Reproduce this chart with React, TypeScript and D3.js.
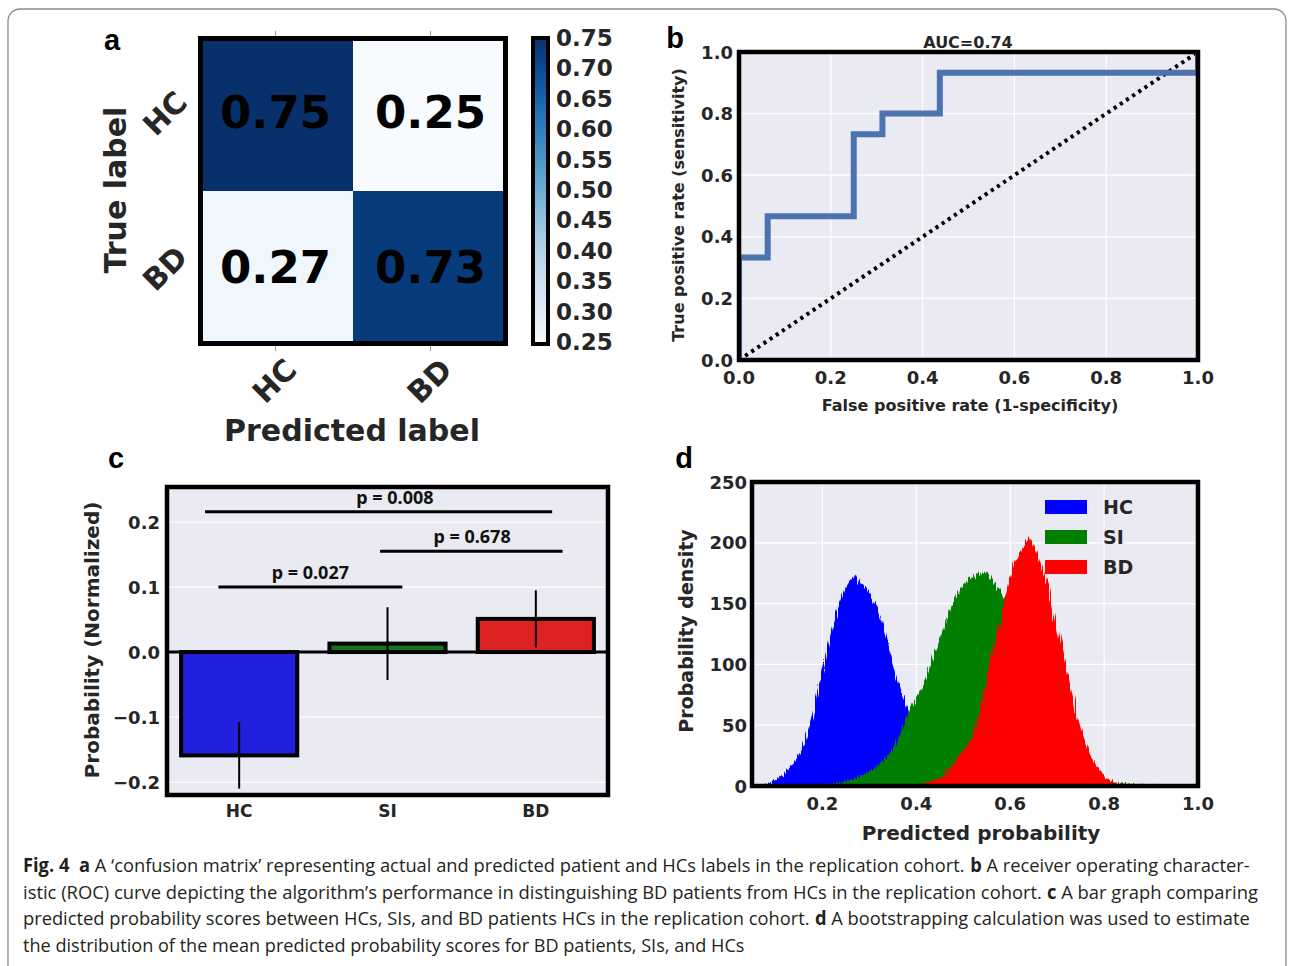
import React from 'react';
import * as d3 from 'd3';

const FONT = "'DejaVu Sans', sans-serif";
const TXT = '#262626';
const BG = '#EAEAF2';

// ---------- Panel a : confusion matrix ----------
const cmClasses = ['HC', 'BD'];
const cmValues = [
  [0.75, 0.25],
  [0.27, 0.73],
];
const cbTicks = [0.25, 0.3, 0.35, 0.4, 0.45, 0.5, 0.55, 0.6, 0.65, 0.7, 0.75];

// ---------- Panel b : ROC ----------
const rocFpr = [0, 0, 0.0625, 0.0625, 0.25, 0.25, 0.3125, 0.3125, 0.4375, 0.4375, 1, 1];
const rocTpr = [0, 0.333, 0.333, 0.467, 0.467, 0.733, 0.733, 0.8, 0.8, 0.933, 0.933, 1];
const chance = [0, 1];
const rocTicks = [0, 0.2, 0.4, 0.6, 0.8, 1.0];
const aucTitle = 'AUC=0.74';

// ---------- Panel c : bars ----------
const barCats = ['HC', 'SI', 'BD'];
const barMeans = [-0.159, 0.013, 0.051];
const barErrs = [0.051, 0.056, 0.044];
const barColors = ['#2121DD', '#187218', '#DD2222'];
const barTicks = [-0.2, -0.1, 0.0, 0.1, 0.2];
const sigLabels = ['p = 0.008', 'p = 0.678', 'p = 0.027'];
const sigY = [0.216, 0.155, 0.1];
const sigX0 = [-0.23, 0.95, -0.14];
const sigX1 = [2.11, 2.18, 1.1];
const sigTextX = [1.05, 1.57, 0.48];

// ---------- Panel d : bootstrap histograms ----------
const histStep = 0.01;
const hcStart = 0.05;
const hcDensity = [0, 0.5, 1, 1.5, 2.5, 5, 7, 11, 15, 20, 26, 34, 46, 58, 75, 94, 112, 128, 142, 154, 163, 169, 174, 166, 165, 158, 152, 143, 131, 117, 103, 89, 76, 65, 54, 44, 35, 27, 20, 14, 10, 7, 5, 3, 2, 1, 0.5, 0.3, 0];
const siStart = 0.18;
const siDensity = [0, 0.3, 0.5, 1, 1.5, 2, 3, 4, 5, 6, 8, 10, 12, 14, 17, 21, 25, 31, 38, 46, 58, 66, 72, 79, 88, 100, 110, 118, 130, 145, 152, 160, 166, 172, 170, 176, 174, 177, 170, 165, 158, 150, 140, 130, 120, 110, 100, 90, 80, 70, 60, 51, 43, 36, 30, 24, 19, 15, 12, 9, 7, 6, 6, 5, 3.5, 2.5, 2, 1.5, 1, 0.8, 0.5, 0.3, 0.2, 0];
const bdStart = 0.38;
const bdDensity = [0, 0.5, 1, 1.5, 2, 3, 5, 7, 10, 14, 19, 24, 29, 34, 41, 55, 70, 88, 106, 124, 142, 158, 172, 184, 192, 198, 205, 196, 189, 176, 164, 148, 132, 114, 96, 80, 62, 48, 36, 26, 19, 13, 8, 5, 3, 2, 1, 0.5, 0];
const histNames = ['HC', 'SI', 'BD'];
const histColors = ['#0000FF', '#007F00', '#FF0000'];
const histXTicks = [0.2, 0.4, 0.6, 0.8, 1.0];
const histYTicks = [0, 50, 100, 150, 200, 250];

// ---------- Caption ----------
const captionLines: { parts: [string, boolean][]; width: number }[] = [
  {
    parts: [
      ['Fig. 4', true], ['  ', false], ['a', true], [' ', false],
      ['A \u2018confusion matrix\u2019 representing actual and predicted patient and HCs labels in the replication cohort.', false], [' ', false],
      ['b', true], [' ', false], ['A receiver operating character-', false],
    ],
    width: 1227,
  },
  {
    parts: [
      ['istic (ROC) curve depicting the algorithm\u2019s performance in distinguishing BD patients from HCs in the replication cohort.', false], [' ', false],
      ['c', true], [' ', false], ['A bar graph comparing', false],
    ],
    width: 1235,
  },
  {
    parts: [
      ['predicted probability scores between HCs, SIs, and BD patients HCs in the replication cohort.', false], [' ', false],
      ['d', true], [' ', false], ['A bootstrapping calculation was used to estimate', false],
    ],
    width: 1227,
  },
  {
    parts: [['the distribution of the mean predicted probability scores for BD patients, SIs, and HCs', false]],
    width: 722,
  },
];

const CAP_FONT = "'Open Sans', 'Noto Sans', sans-serif";
const CAP_SIZE = 19;

let measureCtx: CanvasRenderingContext2D | null = null;
function measure(t: string, bold: boolean) {
  if (!measureCtx) measureCtx = document.createElement('canvas').getContext('2d');
  if (!measureCtx) return t.length * CAP_SIZE * 0.5;
  measureCtx.font = `${bold ? 'bold' : 'normal'} ${CAP_SIZE}px ${CAP_FONT}`;
  return measureCtx.measureText(t).width;
}

const panelLetter = (t: string, x: number, y: number) => (
  <text x={x} y={y} fontFamily="'Liberation Sans', Arial, sans-serif" fontWeight="bold" fontSize={29} fill="#000" textAnchor="middle" dominantBaseline="central">{t}</text>
);

function PanelA() {
  const L = 198, R = 508, T = 36, B = 346;
  const x = d3.scaleBand().domain(cmClasses).range([L, R]);
  const y = d3.scaleBand().domain(cmClasses).range([T, B]);
  const color = d3.scaleSequential(d3.interpolateBlues).domain([0.25, 0.75]);
  const cbX = 531, cbW = 19;
  const cbY = d3.scaleLinear().domain([0.25, 0.75]).range([342, 38]);
  return (
    <g>
      {panelLetter('a', 112, 40)}
      <defs>
        <linearGradient id="cbgrad" x1="0" y1="1" x2="0" y2="0">
          {cbTicks.map((t) => (
            <stop key={t} offset={(t - 0.25) / 0.5} stopColor={color(t)} />
          ))}
        </linearGradient>
      </defs>
      {cmValues.map((row, i) =>
        row.map((v, j) => (
          <rect key={`${i}-${j}`} x={x(cmClasses[j])} y={y(cmClasses[i])} width={x.bandwidth()} height={y.bandwidth()} fill={color(v)} />
        ))
      )}
      {cmClasses.map((c) => (
        <g key={c}>
          <line x1={x(c)! + x.bandwidth() / 2} x2={x(c)! + x.bandwidth() / 2} y1={T - 5} y2={T} stroke="#999" strokeWidth={1} />
          <line x1={x(c)! + x.bandwidth() / 2} x2={x(c)! + x.bandwidth() / 2} y1={B} y2={B + 5} stroke="#999" strokeWidth={1} />
        </g>
      ))}
      <rect x={L + 2.5} y={T + 2.5} width={R - L - 5} height={B - T - 5} fill="none" stroke="#000" strokeWidth={5} />
      {cmValues.map((row, i) =>
        row.map((v, j) => (
          <text key={`t${i}-${j}`} x={x(cmClasses[j])! + x.bandwidth() / 2} y={y(cmClasses[i])! + y.bandwidth() / 2 - 1} fontSize={45} fontWeight="bold" fill="#000" textAnchor="middle" dominantBaseline="central">
            {v.toFixed(2)}
          </text>
        ))
      )}
      {cmClasses.map((c) => (
        <text key={`y${c}`} transform={`translate(${165},${y(c)! + y.bandwidth() / 2}) rotate(-45)`} fontSize={30} fontWeight="bold" fill={TXT} textAnchor="middle" dominantBaseline="central">{c}</text>
      ))}
      {cmClasses.map((c) => (
        <text key={`x${c}`} transform={`translate(${x(c)! + x.bandwidth() / 2 - 1},${381}) rotate(-45)`} fontSize={30} fontWeight="bold" fill={TXT} textAnchor="middle" dominantBaseline="central">{c}</text>
      ))}
      <text transform={`translate(115,190) rotate(-90)`} fontSize={30} fontWeight="bold" fill={TXT} textAnchor="middle" dominantBaseline="central">True label</text>
      <text x={352} y={430} fontSize={30} fontWeight="bold" fill={TXT} textAnchor="middle" dominantBaseline="central">Predicted label</text>
      <rect x={cbX} y={T} width={cbW} height={B - T} fill="url(#cbgrad)" />
      <rect x={cbX + 2} y={T + 2} width={cbW - 4} height={B - T - 4} fill="none" stroke="#000" strokeWidth={4} />
      {cbTicks.map((t) => (
        <text key={t} x={556} y={cbY(t)} fontSize={23} fontWeight="bold" fill={TXT} dominantBaseline="central">{t.toFixed(2)}</text>
      ))}
    </g>
  );
}

function PanelB() {
  const L = 737, R = 1200, T = 50, B = 362;
  const x = d3.scaleLinear().domain([0, 1]).range([739, 1198]);
  const y = d3.scaleLinear().domain([0, 1]).range([360, 52]);
  const pts = rocFpr.map((f, i) => [f, rocTpr[i]] as [number, number]);
  const line = d3.line<[number, number]>().x((d) => x(d[0])).y((d) => y(d[1]));
  const diag = chance.map((v) => [v, v] as [number, number]);
  return (
    <g>
      {panelLetter('b', 675, 38)}
      <defs>
        <clipPath id="clipB"><rect x={L} y={T} width={R - L} height={B - T} /></clipPath>
      </defs>
      <rect x={L} y={T} width={R - L} height={B - T} fill={BG} />
      {rocTicks.slice(1, -1).map((t) => (
        <g key={t}>
          <line x1={x(t)} x2={x(t)} y1={T} y2={B} stroke="#fff" strokeWidth={1.2} />
          <line x1={L} x2={R} y1={y(t)} y2={y(t)} stroke="#fff" strokeWidth={1.2} />
        </g>
      ))}
      <g clipPath="url(#clipB)">
        <path d={line(diag)!} fill="none" stroke="#000" strokeWidth={4} strokeDasharray="3.2,4.2" />
        <path d={line(pts)!} fill="none" stroke="#4C72B0" strokeWidth={6} />
      </g>
      <rect x={L + 2} y={T + 2} width={R - L - 4} height={B - T - 4} fill="none" stroke="#000" strokeWidth={4.5} />
      {rocTicks.map((t) => (
        <text key={`x${t}`} x={x(t)} y={377} fontSize={18} fontWeight="bold" fill={TXT} textAnchor="middle" dominantBaseline="central">{t.toFixed(1)}</text>
      ))}
      {rocTicks.map((t) => (
        <text key={`y${t}`} x={733} y={y(t)} fontSize={18} fontWeight="bold" fill={TXT} textAnchor="end" dominantBaseline="central">{t.toFixed(1)}</text>
      ))}
      <text x={968} y={42} fontSize={16} fontWeight="bold" fill={TXT} textAnchor="middle" dominantBaseline="central">{aucTitle}</text>
      <text x={970} y={405} fontSize={16} fontWeight="bold" fill={TXT} textAnchor="middle" dominantBaseline="central">False positive rate (1-specificity)</text>
      <text transform="translate(678,205) rotate(-90)" fontSize={16} fontWeight="bold" fill={TXT} textAnchor="middle" dominantBaseline="central">True positive rate (sensitivity)</text>
    </g>
  );
}

function PanelC() {
  const L = 165, R = 610, T = 485, B = 797;
  const x = d3.scaleBand().domain(barCats).range([L, R]).paddingInner(0.19).paddingOuter(0.095);
  const xi = d3.scaleLinear().domain([0, 1]).range([L + (R - L) / 6, L + (R - L) / 2]);
  const y = d3.scaleLinear().domain([-0.223, 0.257]).range([B, T]);
  const fmt = d3.format('.1f');
  return (
    <g>
      {panelLetter('c', 116, 458)}
      <rect x={L} y={T} width={R - L} height={B - T} fill={BG} />
      {barTicks.filter((t) => t !== 0).map((t) => (
        <line key={t} x1={L} x2={R} y1={y(t)} y2={y(t)} stroke="#fff" strokeWidth={1.2} />
      ))}
      {barCats.map((c, i) => {
        const v = barMeans[i];
        return (
          <rect key={c} x={x(c)! + 2} y={Math.min(y(v), y(0))} width={x.bandwidth() - 4} height={Math.abs(y(v) - y(0))} fill={barColors[i]} stroke="#000" strokeWidth={4} />
        );
      })}
      <line x1={L} x2={R} y1={y(0)} y2={y(0)} stroke="#000" strokeWidth={3} />
      {barCats.map((c, i) => (
        <line key={`e${c}`} x1={x(c)! + x.bandwidth() / 2} x2={x(c)! + x.bandwidth() / 2} y1={y(barMeans[i] - barErrs[i])} y2={y(barMeans[i] + barErrs[i])} stroke="#000" strokeWidth={2} />
      ))}
      {sigLabels.map((s, i) => (
        <g key={s}>
          <line x1={xi(sigX0[i])} x2={xi(sigX1[i])} y1={y(sigY[i])} y2={y(sigY[i])} stroke="#000" strokeWidth={3} />
          <text x={xi(sigTextX[i])} y={y(sigY[i]) - 8} fontFamily="'Noto Sans', 'Open Sans', sans-serif" fontWeight="bold" fontSize={18} fill="#111" textAnchor="middle">{s}</text>
        </g>
      ))}
      <rect x={L + 2} y={T + 2} width={R - L - 4} height={B - T - 4} fill="none" stroke="#000" strokeWidth={4.5} />
      {barTicks.map((t) => (
        <text key={`y${t}`} x={160} y={y(t)} fontSize={18} fontWeight="bold" fill={TXT} textAnchor="end" dominantBaseline="central">{fmt(t)}</text>
      ))}
      {barCats.map((c) => (
        <text key={`x${c}`} x={x(c)! + x.bandwidth() / 2} y={811} fontSize={17} fontWeight="bold" fill={TXT} textAnchor="middle" dominantBaseline="central">{c}</text>
      ))}
      <text transform="translate(92,640) rotate(-90)" fontSize={20} fontWeight="bold" fill={TXT} textAnchor="middle" dominantBaseline="central">Probability (Normalized)</text>
    </g>
  );
}

function PanelD() {
  const L = 750, R = 1200, T = 480, B = 788;
  const x = d3.scaleLinear().domain([0.05, 1.0]).range([752, 1198]);
  const y = d3.scaleLinear().domain([0, 250]).range([786, 482]);
  const series = [
    { start: hcStart, vals: hcDensity },
    { start: siStart, vals: siDensity },
    { start: bdStart, vals: bdDensity },
  ];
  const area = d3.area<[number, number]>().x((d) => x(d[0])).y0(B + 12).y1((d) => y(d[1]));
  return (
    <g>
      {panelLetter('d', 684, 458)}
      <defs>
        <clipPath id="clipD"><rect x={L} y={T} width={R - L} height={B - T - 3} /></clipPath>
        <filter id="jag" x="-5%" y="-10%" width="110%" height="120%">
          <feTurbulence type="fractalNoise" baseFrequency="0.9 0.004" numOctaves={2} seed={3} result="n" />
          <feDisplacementMap in="SourceGraphic" in2="n" scale={9} xChannelSelector="B" yChannelSelector="R" />
        </filter>
      </defs>
      <rect x={L} y={T} width={R - L} height={B - T} fill={BG} />
      {histXTicks.slice(0, -1).map((t) => (
        <line key={`gx${t}`} x1={x(t)} x2={x(t)} y1={T} y2={B} stroke="#fff" strokeWidth={1.2} />
      ))}
      {histYTicks.slice(1, -1).map((t) => (
        <line key={`gy${t}`} x1={L} x2={R} y1={y(t)} y2={y(t)} stroke="#fff" strokeWidth={1.2} />
      ))}
      <g clipPath="url(#clipD)">
        <g filter="url(#jag)">
          {series.map((s, k) => {
            const pts = s.vals.map((v, i) => [s.start + i * histStep, v] as [number, number]);
            return <path key={k} d={area(pts)!} fill={histColors[k]} />;
          })}
        </g>
      </g>
      <rect x={L + 2} y={T + 2} width={R - L - 4} height={B - T - 4} fill="none" stroke="#000" strokeWidth={4.5} />
      {histNames.map((n, i) => (
        <g key={n}>
          <rect x={1045} y={500 + i * 30} width={42} height={14} fill={histColors[i]} />
          <text x={1103} y={507 + i * 30} fontSize={19} fontWeight="bold" fill={TXT} dominantBaseline="central">{n}</text>
        </g>
      ))}
      {histXTicks.map((t) => (
        <text key={`x${t}`} x={x(t)} y={803} fontSize={18} fontWeight="bold" fill={TXT} textAnchor="middle" dominantBaseline="central">{t.toFixed(1)}</text>
      ))}
      {histYTicks.map((t) => (
        <text key={`y${t}`} x={747} y={y(t)} fontSize={18} fontWeight="bold" fill={TXT} textAnchor="end" dominantBaseline="central">{t}</text>
      ))}
      <text x={981} y={833} fontSize={20} fontWeight="bold" fill={TXT} textAnchor="middle" dominantBaseline="central">Predicted probability</text>
      <text transform="translate(686,631) rotate(-90)" fontSize={19} fontWeight="bold" fill={TXT} textAnchor="middle" dominantBaseline="central">Probability density</text>
    </g>
  );
}

function Caption() {
  return (
    <g fontFamily={CAP_FONT} fontSize={CAP_SIZE} fill="#231F20">
      {captionLines.map((ln, i) => {
        const widths = ln.parts.map(([t, b]) => measure(t, b));
        const total = widths.reduce((a, b) => a + b, 0);
        const s = ln.width / total;
        let cx = 0;
        return (
          <g key={i} transform={`translate(23,${872 + i * 26.7}) scale(${s},1)`}>
            {ln.parts.map(([t, b], j) => {
              const px = cx;
              cx += widths[j];
              if (!t.trim()) return null;
              return (
                <text key={j} x={px} y={0} fontWeight={b ? 'bold' : 'normal'}>
                  {t}
                </text>
              );
            })}
          </g>
        );
      })}
    </g>
  );
}

export default function App() {
  return (
    <svg width={1290} height={966} style={{ position: 'absolute', left: 0, top: 0, background: '#fff' }} fontFamily={FONT}>
      <rect x={8} y={9} width={1278} height={1000} rx={12} fill="none" stroke="#8a8a8a" strokeWidth={1.3} />
      <PanelA />
      <PanelB />
      <PanelC />
      <PanelD />
      <Caption />
    </svg>
  );
}
